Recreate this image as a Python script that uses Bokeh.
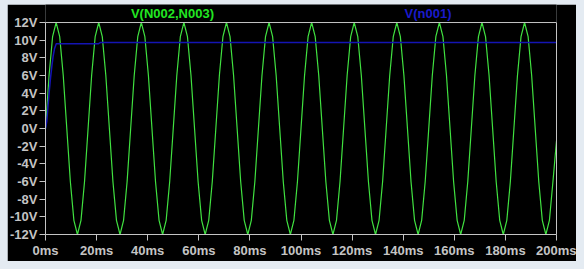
from bokeh.plotting import figure
from bokeh.layouts import column
from bokeh.models import Range1d, FixedTicker, Label, Span, LinearAxis
from bokeh.embed import file_html
from bokeh.resources import INLINE

# ---- data ----
x_ticks = [0, 20, 40, 60, 80, 100, 120, 140, 160, 180, 200]
x_tick_labels = ["0ms", "20ms", "40ms", "60ms", "80ms", "100ms", "120ms",
                 "140ms", "160ms", "180ms", "200ms"]
y_ticks = [-12, -10, -8, -6, -4, -2, 0, 2, 4, 6, 8, 10, 12]
y_tick_labels = ["-12V", "-10V", "-8V", "-6V", "-4V", "-2V", "0V",
                 "2V", "4V", "6V", "8V", "10V", "12V"]
x_min, x_max = 0, 200
y_min, y_max = -12, 12

series_green_name = "V(N002,N003)"
series_blue_name = "V(n001)"

# V(N002,N003): readings taken every 200/144 ms (12 per cycle)
sample_step_ms = 200 / 144
v_green = [
    0, 6, 10.4, 12, 10.4, 6, 0, -6, -10.4, -12, -10.4, -6,
    0, 6, 10.4, 12, 10.4, 6, 0, -6, -10.4, -12, -10.4, -6,
    0, 6, 10.4, 12, 10.4, 6, 0, -6, -10.4, -12, -10.4, -6,
    0, 6, 10.4, 12, 10.4, 6, 0, -6, -10.4, -12, -10.4, -6,
    0, 6, 10.4, 12, 10.4, 6, 0, -6, -10.4, -12, -10.4, -6,
    0, 6, 10.4, 12, 10.4, 6, 0, -6, -10.4, -12, -10.4, -6,
    0, 6, 10.4, 12, 10.4, 6, 0, -6, -10.4, -12, -10.4, -6,
    0, 6, 10.4, 12, 10.4, 6, 0, -6, -10.4, -12, -10.4, -6,
    0, 6, 10.4, 12, 10.4, 6, 0, -6, -10.4, -12, -10.4, -6,
    0, 6, 10.4, 12, 10.4, 6, 0, -6, -10.4, -12, -10.4, -6,
    0, 6, 10.4, 12, 10.4, 6, 0, -6, -10.4, -12, -10.4, -6,
    0, 6, 10.4, 12, 10.4, 6, 0, -6, -10.4, -12, -10.4, -6,
    -1.4,
]
t_green = [i * sample_step_ms for i in range(len(v_green))]

# V(n001)
t_blue = [0, 0.5, 1.0, 1.5, 2.0, 2.5, 3.0, 3.5, 4.2, 20.8, 21.6, 200]
v_blue = [0, 0.8, 2.6, 4.3, 5.8, 7.1, 8.2, 9.0, 9.6, 9.6, 9.75, 9.75]

# ---- styling ----
GREEN = "#40e040"
GREEN_TXT = "#22e622"
BLUE = "#1414b4"
BLUE_TXT = "#1a1acc"
GRAY = "#c4c4c4"
FONT = "Liberation Sans"

# the frame also holds the strip above 12V where the trace names sit
p = figure(width=569, height=257, output_backend="svg", toolbar_location=None,
           x_range=Range1d(x_min, x_max), y_range=Range1d(y_min, 14.04),
           background_fill_color="black", border_fill_color="black",
           min_border_left=36, min_border_right=20, min_border_top=0,
           min_border_bottom=27, margin=(4, 8, 8, 7))
p.outline_line_color = None
p.grid.grid_line_color = None

for ax in (p.xaxis[0], p.yaxis[0]):
    ax.axis_line_color = GRAY
    ax.major_tick_line_color = GRAY
    ax.major_tick_out = 6
    ax.major_tick_in = 0
    ax.minor_tick_line_color = None
    ax.major_label_text_color = GRAY
    ax.major_label_text_font = FONT
    ax.major_label_text_font_style = "bold"
    ax.major_label_text_font_size = "13px"
    ax.major_label_standoff = 2

p.xaxis[0].ticker = FixedTicker(ticks=x_ticks)
p.xaxis[0].major_label_overrides = dict(zip(x_ticks, x_tick_labels))
p.yaxis[0].ticker = FixedTicker(ticks=y_ticks)
p.yaxis[0].major_label_overrides = dict(zip(y_ticks, y_tick_labels))
p.yaxis[0].bounds = (y_min, y_max)

right_axis = LinearAxis(ticker=FixedTicker(ticks=[]), bounds=(y_min, y_max),
                        axis_line_color=GRAY, major_tick_line_color=None,
                        minor_tick_line_color=None)
p.add_layout(right_axis, "right")
p.add_layout(Span(location=y_max, dimension="width", line_color=GRAY, line_width=1))

p.line(t_green, v_green, line_color=GREEN, line_width=1.2)
p.line(t_blue, v_blue, line_color=BLUE, line_width=1.5)

p.add_layout(Label(x=49.7, y=13.0, text=series_green_name, text_color=GREEN_TXT,
                   text_font=FONT, text_font_style="bold", text_font_size="13px",
                   text_align="center", text_baseline="middle"))
p.add_layout(Label(x=149.7, y=13.0, text=series_blue_name, text_color=BLUE_TXT,
                   text_font=FONT, text_font_style="bold", text_font_size="13px",
                   text_align="center", text_baseline="middle"))

layout = column(p, styles={"background-color": "#e4ebf2"})
open("out.html", "w").write(file_html(layout, INLINE))
